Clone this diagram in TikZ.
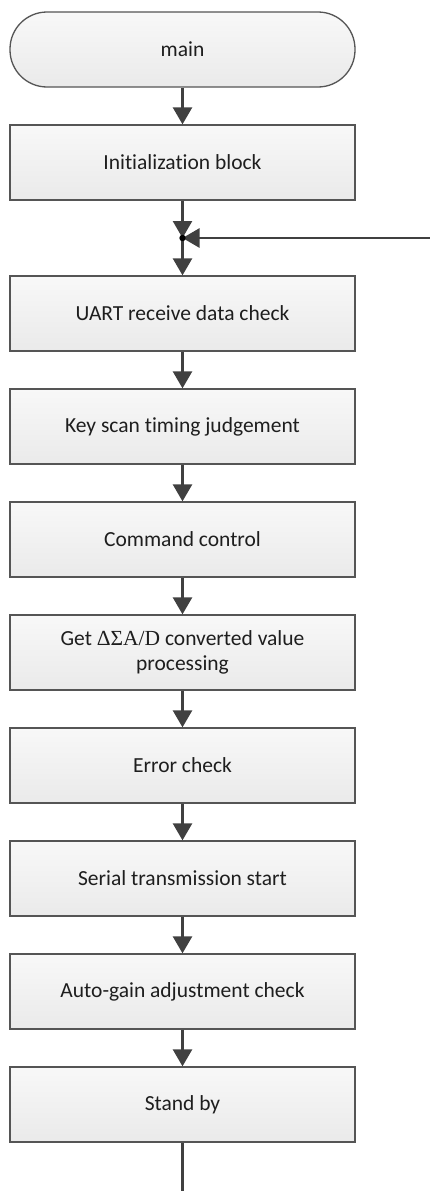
\documentclass[tikz,border=0pt]{standalone}
\usepackage{fontspec}
\setmainfont{Carlito}[Ligatures={NoCommon}]
\newfontfamily\symserif{Liberation Serif}
\usetikzlibrary{arrows.meta}
\definecolor{boxtop}{RGB}{248,248,248}
\definecolor{boxbot}{RGB}{234,234,234}
\definecolor{edgec}{RGB}{85,85,85}
\definecolor{linec}{RGB}{64,64,64}
\definecolor{txt}{RGB}{30,30,30}
\tikzset{
  procbox/.style={draw=edgec, line width=1.3pt, top color=boxtop, bottom color=boxbot,
    minimum width=345pt, minimum height=75pt, inner sep=2pt, align=center,
    text=txt, font=\fontsize{21.5}{25.5}\selectfont},
  termbox/.style={procbox, rounded corners=37pt},
  flow/.style={draw=linec, line width=2.6pt, -{Triangle[width=19pt,length=17pt]}},
  plainflow/.style={draw=linec, line width=2.6pt},
}
\begin{document}
\begin{tikzpicture}[x=1pt,y=1pt]
\useasboundingbox (0,0) rectangle (430,-1191);
\node[termbox] (main) at (182.5,-49.5) {main};
\node[procbox] (init) at (182.5,-162.5) {Initialization block};
\coordinate (j) at (182.5,-238);
\coordinate (r) at (430,-238);
\node[procbox] (uart) at (182.5,-313.5) {UART receive data check};
\node[procbox] (key) at (182.5,-426.5) {Key scan timing judgement};
\node[procbox] (cmd) at (182.5,-539.5) {Command control};
\node[procbox] (adc) at (182.5,-652.5) {Get {\symserif ΔΣA/D} converted value\\processing};
\node[procbox] (err) at (182.5,-765.5) {Error check};
\node[procbox] (ser) at (182.5,-878.5) {Serial transmission start};
\node[procbox] (agc) at (182.5,-991.5) {Auto-gain adjustment check};
\node[procbox] (stb) at (182.5,-1104.5) {Stand by};
\coordinate (end) at (182.5,-1191);
\draw[flow] (main) -- (init);
\draw[flow] (init) -- (j);
\draw[flow] (r) -- (j);
\draw[flow] (j) -- (uart);
\draw[flow] (uart) -- (key);
\draw[flow] (key) -- (cmd);
\draw[flow] (cmd) -- (adc);
\draw[flow] (adc) -- (err);
\draw[flow] (err) -- (ser);
\draw[flow] (ser) -- (agc);
\draw[flow] (agc) -- (stb);
\draw[plainflow] (stb) -- (end);
\fill[black] (j) circle (3.2pt);
\end{tikzpicture}
\end{document}
